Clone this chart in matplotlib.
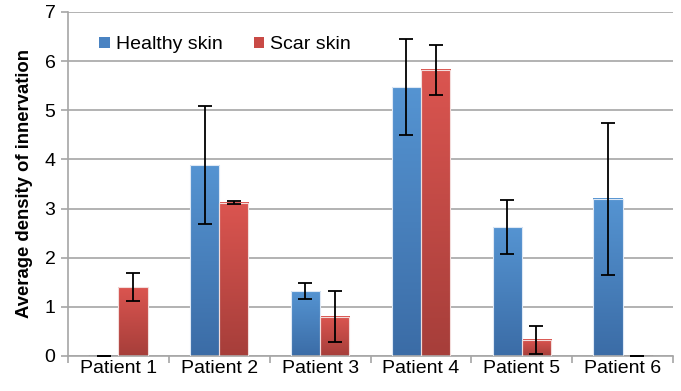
import numpy as np
import matplotlib
matplotlib.use('Agg')
import matplotlib.pyplot as plt
from matplotlib.colors import LinearSegmentedColormap
from matplotlib.patches import Patch

plt.rcParams['font.family'] = ['Liberation Sans', 'DejaVu Sans']

patients = ['Patient 1', 'Patient 2', 'Patient 3', 'Patient 4', 'Patient 5', 'Patient 6']
healthy = [0.0, 3.88, 1.32, 5.47, 2.62, 3.20]
healthy_err = [0.0, 1.20, 0.17, 0.98, 0.55, 1.55]
scar = [1.40, 3.12, 0.80, 5.82, 0.33, 0.0]
scar_err = [0.28, 0.03, 0.52, 0.50, 0.28, 0.0]

fig = plt.figure(figsize=(6.81, 3.91), dpi=100)
ax = fig.add_axes([68 / 681, 35 / 391, 605 / 681, 344 / 391])

x = np.arange(len(patients))
w = 0.29

blue_cm = LinearSegmentedColormap.from_list('b', ['#3b6ca6', '#5594d2'])
red_cm = LinearSegmentedColormap.from_list('r', ['#a63e3a', '#db5550'])
grad = np.linspace(0, 1, 256).reshape(-1, 1)

def gradient_bars(xs, vals, cmap, edge):
    bars = ax.bar(xs, vals, w, color='none', edgecolor=edge, linewidth=0.8, zorder=3)
    for b in bars:
        x0, y0 = b.get_x(), b.get_y()
        x1, y1 = x0 + b.get_width(), y0 + b.get_height()
        if y1 - y0 <= 0:
            ax.plot([x0, x1], [0, 0], color='#7f7f7f', lw=1, zorder=3)
            continue
        ax.imshow(grad, cmap=cmap, extent=[x0, x1, y0, y1], origin='lower',
                  aspect='auto', zorder=2)
    return bars

gradient_bars(x - w / 2, healthy, blue_cm, '#dde8f5')
gradient_bars(x + w / 2, scar, red_cm, '#f3dcdb')

ax.errorbar(x - w / 2, healthy, yerr=healthy_err, fmt='none', ecolor='black',
            elinewidth=1.3, capsize=5, capthick=1.3, zorder=4)
ax.errorbar(x + w / 2, scar, yerr=scar_err, fmt='none', ecolor='black',
            elinewidth=1.3, capsize=5, capthick=1.3, zorder=4)

ax.set_xlim(-0.5, len(patients) - 0.5)
ax.set_ylim(0, 7)
ax.set_yticks(range(0, 8))
ax.yaxis.grid(True, color='#a6a6a6', lw=1.2)
ax.set_axisbelow(True)

ax.set_xticks(x)
ax.set_xticklabels(patients)
ax.set_xticks(np.arange(-0.5, len(patients)), minor=True)
ax.tick_params(axis='x', which='major', length=0, labelsize=14, pad=3)
ax.tick_params(axis='x', which='minor', length=5, color='#a6a6a6', width=1.2)
ax.tick_params(axis='y', length=5, color='#a6a6a6', width=1.2, labelsize=14, pad=4)

for s in ['top', 'right']:
    ax.spines[s].set_visible(False)
for s in ['left', 'bottom']:
    ax.spines[s].set_color('#a6a6a6')
    ax.spines[s].set_linewidth(1.2)

ax.set_ylabel('Average density of innervation', fontsize=13.3, fontweight='bold', labelpad=8)

handles = [Patch(facecolor='#4a83c2', label='Healthy skin'),
           Patch(facecolor='#c94a46', label='Scar skin')]
ax.legend(handles=handles, loc='upper left', bbox_to_anchor=(0.023, 0.98), ncol=2,
          frameon=False, fontsize=14, handlelength=0.55, handleheight=0.55,
          handletextpad=0.3, columnspacing=1.6)

fig.savefig('out.png', dpi=100)
